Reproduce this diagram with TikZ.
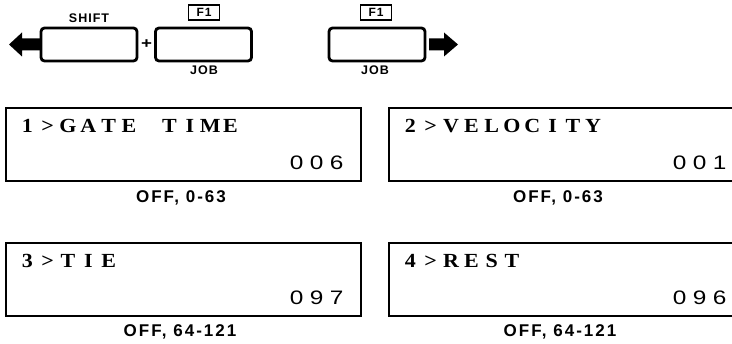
\documentclass[tikz,border=0pt]{standalone}
\usepackage{fontspec}
\setmainfont{Liberation Serif}
\newfontfamily\lblfont[LetterSpace=12]{Liberation Sans}
\newfontfamily\keyfont[LetterSpace=8]{Liberation Sans}
\newfontfamily\digfont[FakeStretch=1.25]{Liberation Sans}
\newfontfamily\lcdfont[FakeStretch=1.1]{Liberation Serif}
\usetikzlibrary{calc}
\newlength\lcdpitch
\newcommand\lcdch[1]{\makebox[\lcdpitch]{#1}}
\makeatletter
\newcommand\lcdline[1]{\@tfor\lcd@c:=#1\do{\lcdch{\lcd@c}}}
\makeatother
\tikzset{
  keybox/.style={draw, line width=2.8pt, rounded corners=3.5pt, minimum width=96pt, minimum height=33pt, inner sep=0pt},
  fbox/.style={draw, line width=1.3pt, minimum width=31pt, minimum height=15pt, inner sep=0pt, font=\keyfont\bfseries\fontsize{12}{12}\selectfont},
  keylbl/.style={inner sep=0pt, anchor=base, font=\keyfont\bfseries\fontsize{12.5}{12.5}\selectfont},
  lcdbox/.style={draw, line width=1.8pt, minimum width=355pt, minimum height=73pt, inner sep=0pt},
  lcdtxt/.style={inner sep=0pt, anchor=west, font=\lcdfont\bfseries\fontsize{20}{20}\selectfont\setlength\lcdpitch{20.3pt}},
  lcddig/.style={inner sep=0pt, anchor=east, font=\digfont\fontsize{19.5}{19.5}\selectfont\setlength\lcdpitch{20pt}},
  rangelbl/.style={inner sep=0pt, anchor=base, font=\lblfont\bfseries\fontsize{17}{17}\selectfont},
}
\begin{document}
\begin{tikzpicture}[x=1pt,y=-1pt]
\useasboundingbox (0,0) rectangle (732,344);
% keys
\node[keybox] (k1) at (89,44.5) {};
\node[keybox] (k2) at (203.5,44.5) {};
\node[keybox] (k3) at (377,44.5) {};
\node[keylbl] (shift) at (89,23) {SHIFT};
\node[inner sep=0pt, font=\digfont\bfseries\fontsize{15}{15}\selectfont] (plus) at (146.5,44.5) {+};
\node[fbox] (f1a) at (204,12.5) {F1};
\node[fbox] (f1b) at (376,12.5) {F1};
\node[keylbl] (joba) at (204,75) {JOB};
\node[keylbl] (jobb) at (375,75) {JOB};
% arrows
\fill (9,44.5) -- (22,32.5) -- (22,38.5) -- (40,38.5) -- (40,50.5) -- (22,50.5) -- (22,56.5) -- cycle;
\fill (458,44.5) -- (444,32.5) -- (444,38.5) -- (429,38.5) -- (429,50.5) -- (444,50.5) -- (444,56.5) -- cycle;
% LCD boxes
\begin{scope}
\clip (0,0) rectangle (732,344);
\node[lcdbox] (b1) at (183.5,144.5) {};
\node[lcdbox] (b2) at (566.5,144.5) {};
\node[lcdbox] (b3) at (183.5,279.5) {};
\node[lcdbox] (b4) at (566.5,279.5) {};
\end{scope}
\node[lcdtxt] (t1) at ($(b1.north west)+(12,19)$) {\lcdline{1>GATE~TIME}};
\node[lcddig] (d1) at ($(b1.south east)+(-15,-19)$) {\lcdline{006}};
\node[lcdtxt] (t2) at ($(b2.north west)+(12,19)$) {\lcdline{2>VELOCITY}};
\node[lcddig] (d2) at ($(b2.south east)+(-15,-19)$) {\lcdline{001}};
\node[lcdtxt] (t3) at ($(b3.north west)+(12,19)$) {\lcdline{3>TIE}};
\node[lcddig] (d3) at ($(b3.south east)+(-15,-19)$) {\lcdline{097}};
\node[lcdtxt] (t4) at ($(b4.north west)+(12,19)$) {\lcdline{4>REST}};
\node[lcddig] (d4) at ($(b4.south east)+(-15,-19)$) {\lcdline{096}};
% range labels
\node[rangelbl] (r1) at (181,203) {OFF, 0-63};
\node[rangelbl] (r2) at (558,203) {OFF, 0-63};
\node[rangelbl] (r3) at (180,337) {OFF, 64-121};
\node[rangelbl] (r4) at (560,337) {OFF, 64-121};
\end{tikzpicture}
\end{document}
